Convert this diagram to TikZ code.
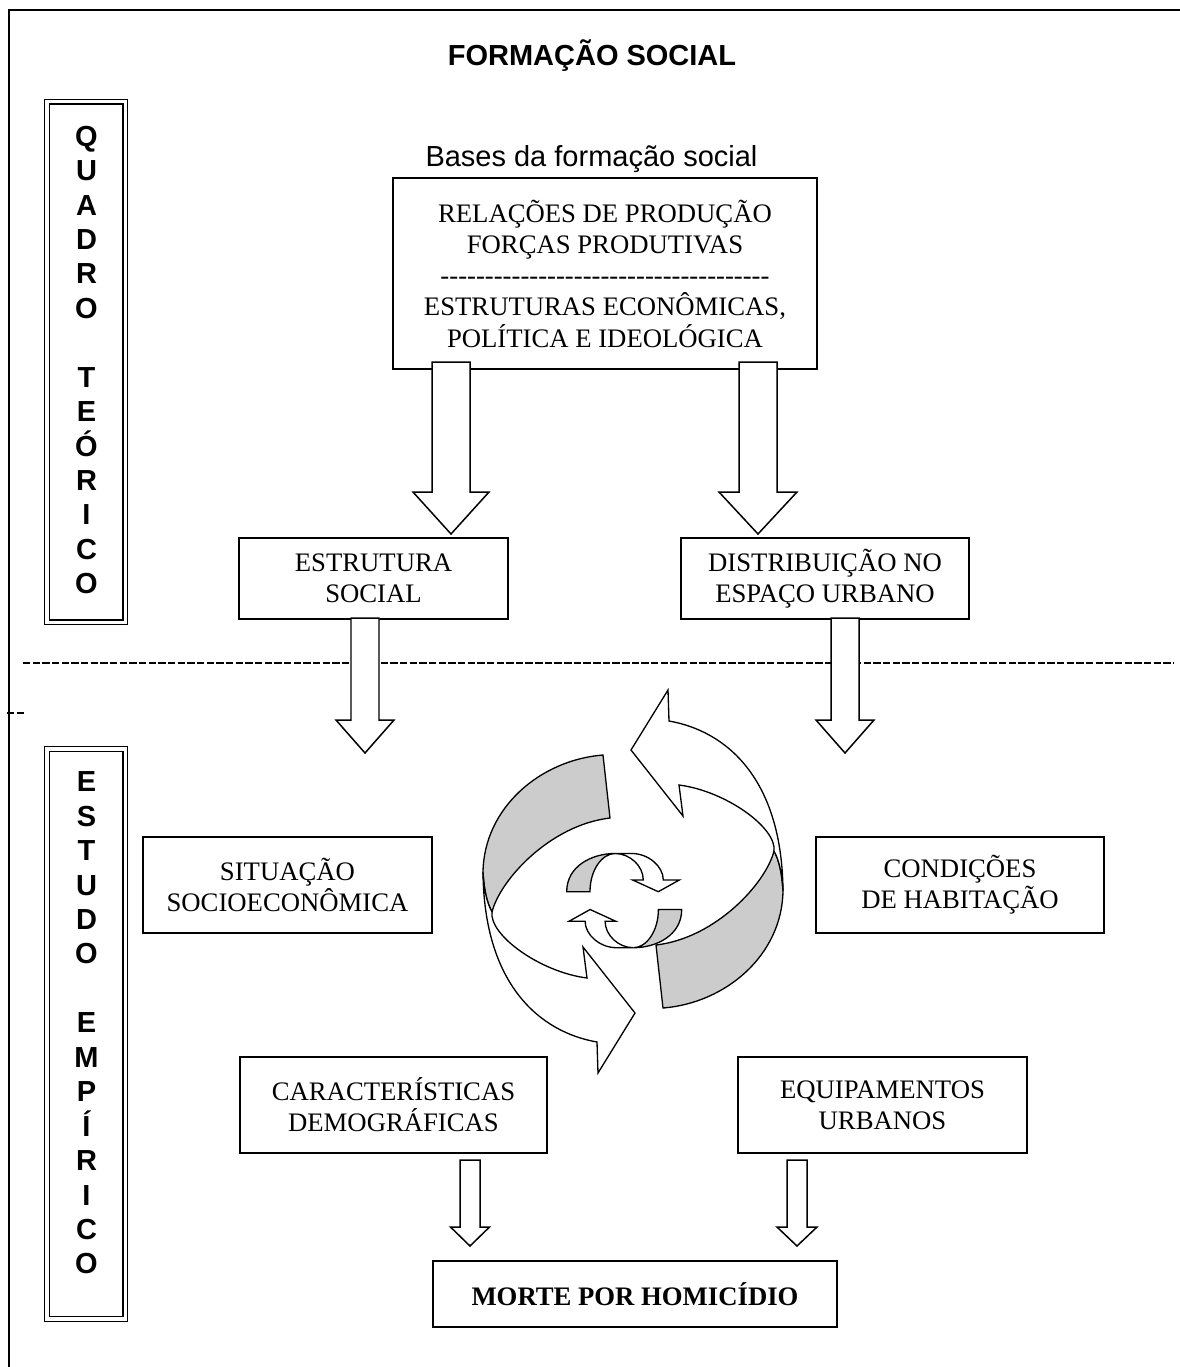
\documentclass[tikz,border=0pt]{standalone}
\usepackage{fontspec}
\setmainfont{Liberation Serif}
\setsansfont{Liberation Sans}

\tikzset{
  box/.style={draw, line width=0.85pt, align=center, inner sep=0pt,
    font=\fontsize{15.2}{17.8}\selectfont},
  dbox/.style={draw, line width=0.8pt, double, double distance=1.8pt, inner sep=0pt},
  vtext/.style={align=center, inner sep=0pt, font=\sffamily\bfseries\fontsize{16.5}{19.6}\selectfont},
  hollow/.style={draw, line width=0.85pt, fill=white, line join=miter},
  divisor/.style={line width=0.75pt, dash pattern=on 4.2pt off 1.3pt},
  ribbon/.style={draw, line width=0.75pt, line join=miter},
  shade/.style={ribbon, fill=black!20},
  plain/.style={ribbon, fill=white}
}

% top, shaft half width, head half width, shaft length, head length
\newcommand{\hollowarrow}[5]{%
  \draw[hollow, shift={(#1)}] (-#2,0) -- (-#2,#4) -- (-#3,#4) -- (0,#4+#5)
    -- (#3,#4) -- (#2,#4) -- (#2,0) -- cycle;}

\newcommand{\dashrow}{\foreach \k in {1,...,37}{-\kern0pt}}

% one half of the big cycle
\newcommand{\bigloop}{%
  \draw[shade] (603,755) .. controls (540,760) and (484,808) .. (483,872)
    .. controls (484,890) and (487,903) .. (492,912)
    .. controls (500,880) and (550,825) .. (610,818) -- cycle;
  \draw[plain] (492,912) .. controls (489,935) and (540,972) .. (587,978)
    -- (583,947) -- (635,1013) -- (598,1073) -- (597,1042)
    .. controls (540,1032) and (484,985) .. (483,872)
    .. controls (484,890) and (487,903) .. (492,912) -- cycle;}

% one half of the small cycle
\newcommand{\smallloop}{%
  \draw[shade] (566.7,891.7) .. controls (566.7,866) and (592,853.5) .. (615,853.5)
    .. controls (602,853.5) and (590,870) .. (590,891.7) -- cycle;
  \draw[plain] (615,853.5) -- (632,853.5) .. controls (648,853.5) and (663.3,866) .. (663.3,880)
    -- (679.3,880) -- (658.3,891.7) -- (632.7,880) -- (643.3,880)
    .. controls (643.3,866) and (630,853.5) .. (615,853.5) -- cycle;}

\begin{document}
\begin{tikzpicture}[x=0.02cm, y=-0.02cm]
\useasboundingbox (0,0) rectangle (1180,1367);

% frame
\draw[line width=1.1pt] (9,1367) -- (9,10) -- (1180,10);

\node[font=\sffamily\bfseries\fontsize{16.5}{19.6}\selectfont, anchor=base] (titulo) at (592,65) {FORMAÇÃO SOCIAL};

% side labels
\node[dbox, minimum width=1.566cm, minimum height=10.41cm] (quadro) at (86.2,361.9) {};
\node[vtext] (quadrotxt) at (86.5,360) {Q\\U\\A\\D\\R\\O\\[19.6pt]T\\E\\Ó\\R\\I\\C\\O};
\node[dbox, minimum width=1.566cm, minimum height=11.4cm] (empirico) at (86.2,1034) {};
\node[vtext] (empiricotxt) at (86.5,1023) {E\\S\\T\\U\\D\\O\\[19.6pt]E\\M\\P\\Í\\R\\I\\C\\O};

% dividing line
\draw[divisor] (23,663) -- (1173,663);
\draw[divisor] (7,713) -- (24,713);

% boxes
\node[font=\sffamily\fontsize{16.5}{19.6}\selectfont, anchor=base] (baseslbl) at (591.5,166) {Bases da formação social};
\node[box, minimum width=8.48cm, minimum height=3.82cm] (bases) at (605,273.5)
  {RELAÇÕES DE PRODUÇÃO\\FORÇAS PRODUTIVAS\\\dashrow\\ESTRUTURAS ECONÔMICAS,\\POLÍTICA E IDEOLÓGICA};
\node[box, minimum width=5.38cm, minimum height=1.62cm] (estrutura) at (373.5,578.5) {ESTRUTURA\\SOCIAL};
\node[box, minimum width=5.76cm, minimum height=1.62cm] (distrib) at (825,578.5) {DISTRIBUIÇÃO NO\\ESPAÇO URBANO};
\node[box, minimum width=5.78cm, minimum height=1.92cm] (situacao) at (287.5,885) {SITUAÇÃO\\SOCIOECONÔMICA};
\node[box, minimum width=5.76cm, minimum height=1.92cm] (condicoes) at (960,885) {CONDIÇÕES\\DE HABITAÇÃO};
\node[box, minimum width=6.14cm, minimum height=1.92cm] (caract) at (393.5,1105) {CARACTERÍSTICAS\\DEMOGRÁFICAS};
\node[box, minimum width=5.78cm, minimum height=1.92cm] (equip) at (882.5,1105) {EQUIPAMENTOS\\URBANOS};
\node[box, font=\bfseries\fontsize{15.2}{17.8}\selectfont, minimum width=8.08cm, minimum height=1.32cm] (morte) at (635,1294) {MORTE POR HOMICÍDIO};

% block arrows
\coordinate (a1) at (451,362);
\coordinate (a2) at (758,362);
\coordinate (a3) at (365,618);
\coordinate (a4) at (845,618);
\coordinate (a5) at (470,1160);
\coordinate (a6) at (797,1160);
\hollowarrow{a1}{19}{38}{130}{42}
\hollowarrow{a2}{19}{39}{130}{42}
\hollowarrow{a3}{14}{29}{102}{33}
\hollowarrow{a4}{14}{29}{102}{33}
\hollowarrow{a5}{10}{19.5}{67}{19}
\hollowarrow{a6}{10}{20}{67}{19}

% cycle
\bigloop
\begin{scope}[rotate around={180:(633,881.5)}]
  \bigloop
\end{scope}
\smallloop
\begin{scope}[rotate around={180:(624.2,900.6)}]
  \smallloop
\end{scope}
\end{tikzpicture}
\end{document}
